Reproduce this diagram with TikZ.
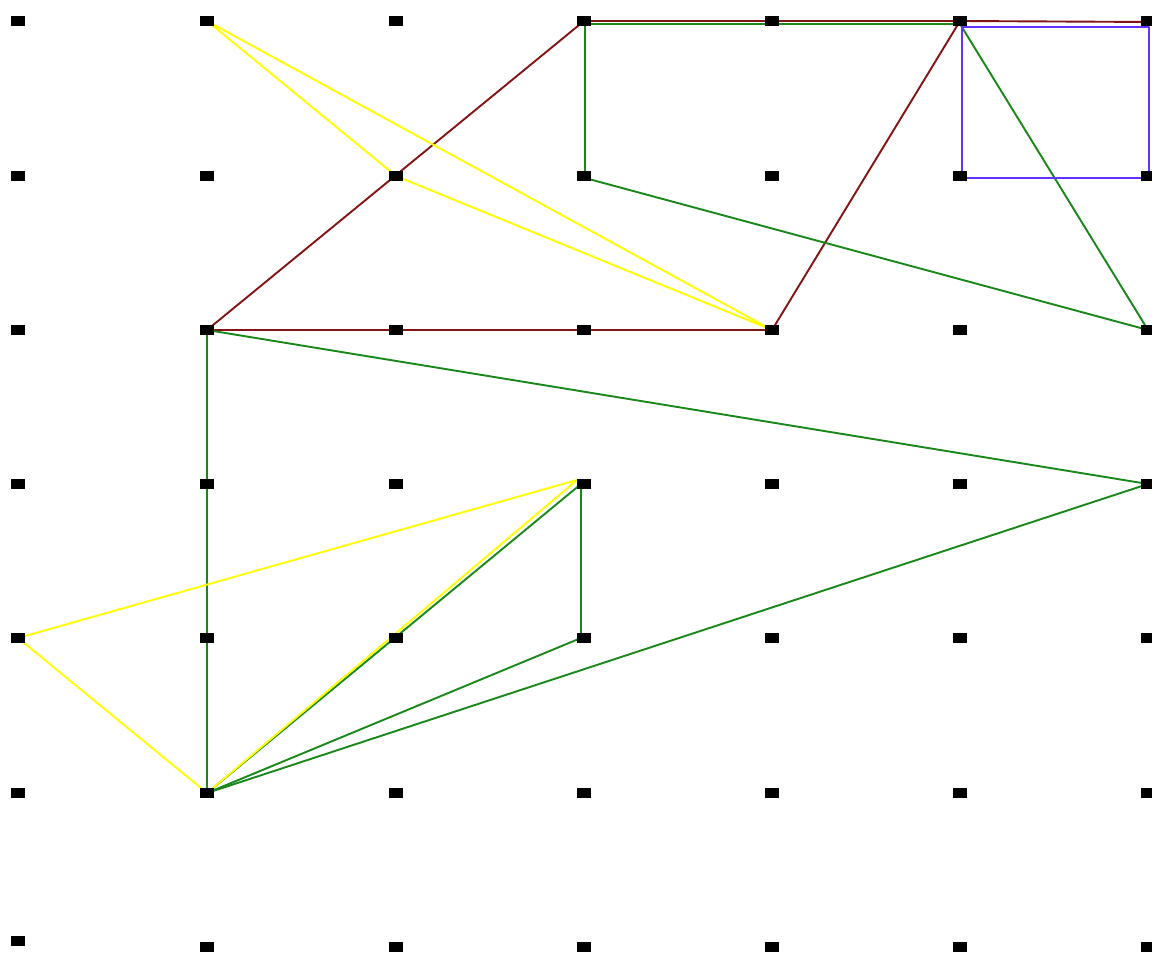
\documentclass[tikz,border=0pt]{standalone}
\usetikzlibrary{calc}
\definecolor{gridbrown}{RGB}{130,20,20}
\definecolor{gridgreen}{RGB}{25,135,25}
\definecolor{gridblue}{RGB}{100,50,255}
\definecolor{gridyellow}{RGB}{255,255,0}

\begin{document}
\begin{tikzpicture}[x=1pt,y=-1pt, line width=1.9pt, line cap=round, line join=round]
  \useasboundingbox (0,0) rectangle (1152,955);
  \tikzset{gdot/.style={fill=black}}

  % --- grid points P-column-row ---
  \foreach \c/\x in {1/18,2/207,3/396,4/584,5/772,6/960,7/1148}
    \foreach \r/\y in {1/21,2/176,3/330,4/484,5/638,6/793,7/947}
      \coordinate (P-\c-\r) at (\x,\y);
  \coordinate (P-1-7) at (18,941);   % bottom-left one sits a little higher

  % === brown: parallelogram + top run to the right edge ===
  \draw[gridbrown] (P-2-3) -- (P-4-1) -- (P-6-1) -- (P-5-3) -- cycle;
  \draw[gridbrown] (P-6-1) -- ($(P-7-1)+(4,1)$);

  % === green quads / triangles ===
  \draw[gridgreen] ($(P-4-1)+(1,3)$) -- ($(P-6-1)+(0,3)$) -- (P-7-3)
    -- ($(P-4-2)+(1,2)$) -- cycle;
  \draw[gridgreen] (P-2-3) -- (P-7-4) -- (P-2-6) -- cycle;
  \draw[gridgreen] ($(P-4-4)+(-3,0)$) -- ($(P-4-5)+(-3,0)$) -- (P-2-6) -- cycle;

  % === blue box ===
  \draw[gridblue] ($(P-6-1)+(2,6)$) rectangle ($(P-7-2)+(1,2)$);

  % === yellow triangles ===
  \draw[gridyellow] (P-2-1) -- (P-5-3) -- (P-3-2) -- cycle;
  \draw[gridyellow] (P-1-5) -- ($(P-4-4)+(-7,-4)$) -- (P-2-6) -- cycle;

  % === dots on top ===
  \foreach \c in {1,...,7}
    \foreach \r in {1,...,7}
      \fill[gdot] ($(P-\c-\r)+(-7,-5)$) rectangle ++(14,10);
\end{tikzpicture}
\end{document}
